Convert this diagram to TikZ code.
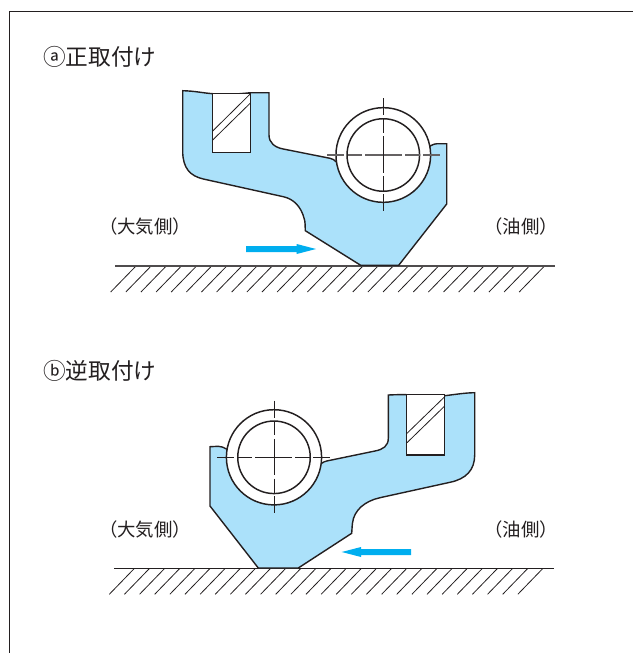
\documentclass[tikz,border=0pt]{standalone}
\usepackage{fontspec}
\setmainfont{Noto Sans CJK JP}
\definecolor{inkc}{HTML}{231F20}
\definecolor{sealfill}{HTML}{ABE1FA}
\definecolor{flowc}{HTML}{00AEEF}
\tikzset{
  outline/.style={draw=inkc,line width=1.05pt,line join=miter,fill=sealfill},
  ringline/.style={draw=inkc,line width=1.1pt,fill=white},
  slotbox/.style={draw=inkc,line width=1.05pt,fill=white},
  hatchline/.style={draw=inkc,line width=0.6pt},
  groundline/.style={draw=inkc!80,line width=0.95pt},
  centerl/.style={draw=inkc,line width=0.65pt,dash pattern=on 12.6pt off 2.6pt on 10.8pt off 2.6pt on 27.2pt off 2.6pt on 10.8pt off 2.6pt on 12.6pt off 60pt},
  framel/.style={draw=inkc,line width=0.75pt},
  flowarrow/.style={fill=flowc,draw=none},
  sidelabel/.style={text=inkc,font=\fontsize{13.8}{13.8}\selectfont,inner sep=0pt,anchor=center},
  headlabel/.style={text=inkc,font=\fontsize{17}{17}\selectfont,inner sep=0pt,anchor=west},
}
\begin{document}
\begin{tikzpicture}[x=0.75pt,y=-0.75pt]
\useasboundingbox (0,0) rectangle (633,653);
% frame
\coordinate (fa) at (9,653);
\coordinate (fb) at (9,11.5);
\coordinate (fc) at (633,11.5);
\draw[framel] (fa) -- (fb) -- (fc);

% ---------- top figure
\foreach \k in {0,...,27}{
  \draw[hatchline] ({110.7+15.13*\k},292) -- ({136+15.13*\k},266);
}
\coordinate (g1a) at (115,266);
\coordinate (g1b) at (555,266);
\draw[groundline] (g1a) -- (g1b);

\draw[outline] (182.7,90.7)
  .. controls (195,91) and (203,93) .. (212.7,93.7)
  .. controls (225,95) and (238,94) .. (250.7,92.7)
  -- (269,92.7) -- (269,135)
  .. controls (269,143) and (275,147.5) .. (283.3,149)
  -- (330,158.3)
  .. controls (333,159) and (334.5,160) .. (335.7,161.5)
  -- (383.3,190) -- (430.7,145.7)
  .. controls (433,144.5) and (435,143.7) .. (437,143.7)
  -- (446.7,143.7) -- (446.7,204)
  -- (398.7,265.3) -- (360.7,265.3) -- (305.3,230.7)
  .. controls (305,226) and (305.5,222) .. (304,218)
  .. controls (301,207) and (294,199) .. (283.3,196.7)
  -- (203.3,179)
  .. controls (190,176) and (183,168) .. (182.7,152)
  -- cycle;
\draw[slotbox] (212.7,93.7) rectangle (250.7,152.7);
\draw[hatchline] (250.7,93.5) -- (212.7,131);
\draw[hatchline] (250.7,102.7) -- (212.7,140);
\draw[ringline] (383.3,155) circle[radius=35.5pt];
\draw[ringline] (383.3,155) circle[radius=27.2pt];
\coordinate (c1l) at (327.3,155);
\coordinate (c1r) at (440.7,155);
\coordinate (c1t) at (383.3,98.3);
\coordinate (c1b) at (383.3,211);
\draw[centerl,draw=inkc!70,line width=0.8pt] (c1l) -- (c1r);
\draw[centerl] (c1t) -- (c1b);
\fill[flowarrow] (246,246) -- (296.7,246) -- (296.7,244) -- (316,249) -- (296.7,254) -- (296.7,252) -- (246,252) -- cycle;

\node[headlabel] (h1) at (43,57) {ⓐ正取付け};
\node[sidelabel] (s1l) at (145,227) {（大気側）};
\node[sidelabel] (s1r) at (521,227) {（油側）};

% ---------- bottom figure
\foreach \k in {0,...,27}{
  \draw[hatchline] ({109.3+15.13*\k},594.3) -- ({134.3+15.13*\k},568.5);
}
\coordinate (g2a) at (114,568.5);
\coordinate (g2b) at (553.5,568.5);
\draw[groundline,draw=inkc] (g2a) -- (g2b);

\draw[outline] (210,446.7)
  -- (218.3,446.3)
  .. controls (221,446.3) and (224,447.5) .. (226.5,449)
  -- (274,495) -- (321.7,463.3)
  .. controls (323,462.3) and (325,461.3) .. (326.7,461)
  -- (375,451)
  .. controls (383,449.5) and (388.3,446) .. (388.3,438.3)
  -- (388.3,395)
  .. controls (395,394.7) and (401,394.5) .. (406.7,394.7)
  .. controls (420,397) and (432,397) .. (444.7,395.7)
  .. controls (455,394.5) and (465,392.8) .. (474.7,392.7)
  -- (474.7,455)
  .. controls (474.7,470) and (466,479) .. (450,482.3)
  -- (380,497.7)
  .. controls (365,501) and (354,510) .. (352.5,523)
  .. controls (352,527) and (352,530) .. (351.7,533.3)
  -- (298.3,568) -- (258.3,568) -- (210,506) -- cycle;
\draw[slotbox] (406.7,394.7) rectangle (444.7,455);
\draw[hatchline] (444.7,396.7) -- (407,433.3);
\draw[hatchline] (444.7,406) -- (407,442.7);
\draw[ringline] (274,457.3) circle[radius=35.7pt];
\draw[ringline] (274,457.3) circle[radius=27.2pt];
\coordinate (c2l) at (217.3,457.3);
\coordinate (c2r) at (330.7,457.3);
\coordinate (c2t) at (274,400.7);
\coordinate (c2b) at (274,514);
\draw[centerl] (c2l) -- (c2r);
\draw[centerl] (c2t) -- (c2b);
\fill[flowarrow] (411,549) -- (361,549) -- (361,547) -- (341.7,552) -- (361,557) -- (361,555) -- (411,555) -- cycle;

\node[headlabel] (h2) at (43,371) {ⓑ逆取付け};
\node[sidelabel] (s2l) at (145,530) {（大気側）};
\node[sidelabel] (s2r) at (521,530) {（油側）};
\end{tikzpicture}
\end{document}
